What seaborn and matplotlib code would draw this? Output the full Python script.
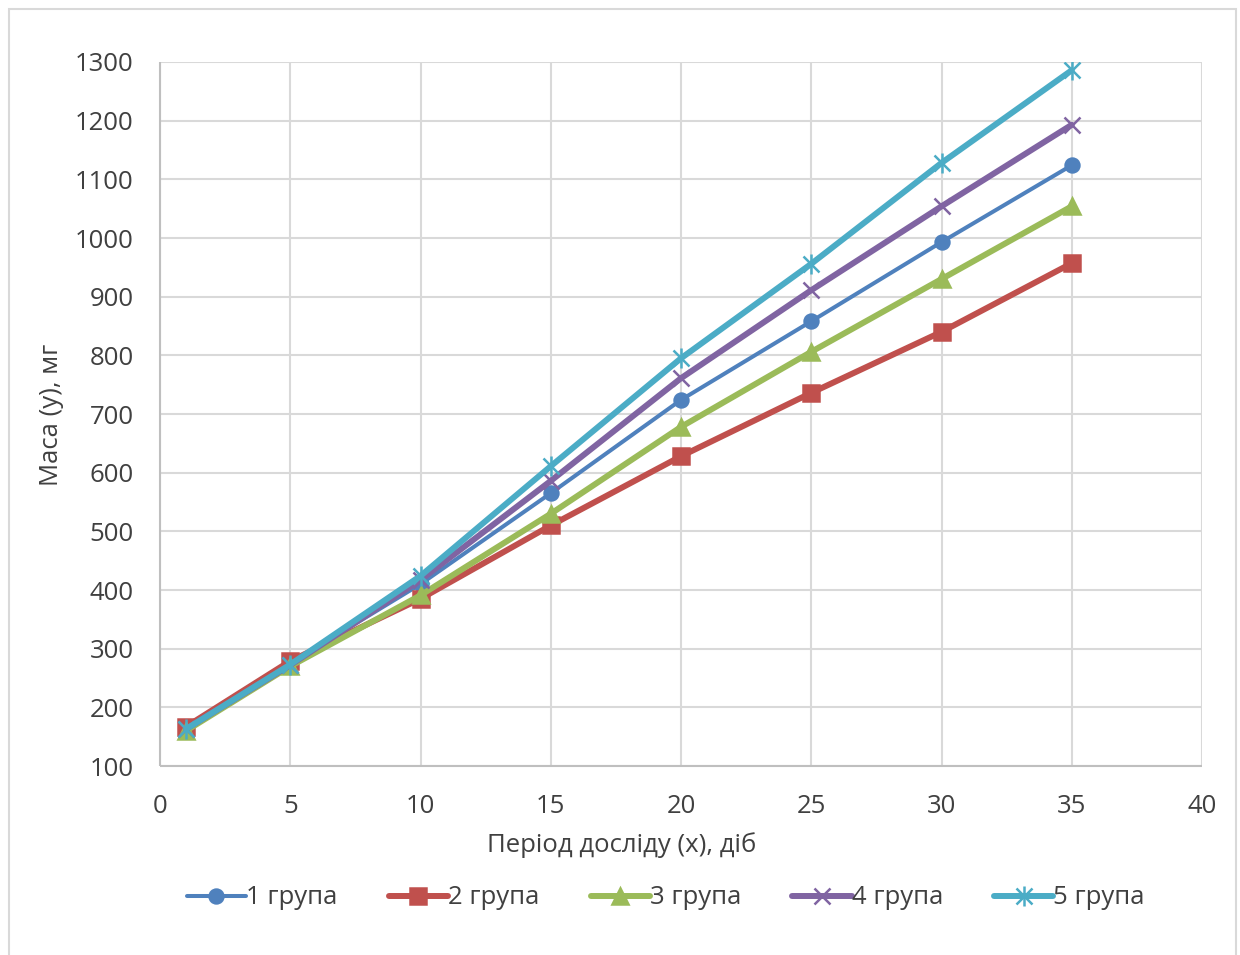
import matplotlib
matplotlib.use("Agg")
import matplotlib.pyplot as plt
import seaborn as sns
import numpy as np
import pandas as pd
from matplotlib.patches import Rectangle
from matplotlib.lines import Line2D

days = [1, 5, 10, 15, 20, 25, 30, 35]
group1 = [163, 275, 410, 565, 724, 858, 993, 1124]
group2 = [167, 279, 385, 510, 628, 736, 840, 957]
group3 = [160, 270, 391, 530, 678, 806, 930, 1054]
group4 = [163, 272, 417, 586, 761, 911, 1054, 1193]
group5 = [163, 273, 424, 611, 795, 956, 1128, 1286]
labels = ["1 група", "2 група", "3 група", "4 група", "5 група"]
x_ticks = [0, 5, 10, 15, 20, 25, 30, 35, 40]
y_ticks = [100, 200, 300, 400, 500, 600, 700, 800, 900, 1000, 1100, 1200, 1300]

sns.set_theme(style="white")
plt.rcParams["font.family"] = ["Open Sans", "DejaVu Sans"]
text_color = "#404040"
fs = 18.5

fig = plt.figure(figsize=(12.4, 9.55), dpi=100)
ax = fig.add_axes([160 / 1240, 1 - 766 / 955, (1202 - 160) / 1240, (766 - 62) / 955])

# outer chart frame
fig.patches.append(Rectangle((9 / 1240, -0.01), (1236 - 9) / 1240, 1 - 9 / 955 + 0.01,
                             transform=fig.transFigure, fill=False,
                             edgecolor="#D9D9D9", linewidth=1.5))

styles = [
    dict(color="#4F81BD", marker="o", lw=2.9, ms=10),
    dict(color="#C0504D", marker="s", lw=4.3, ms=11),
    dict(color="#9BBB59", marker="^", lw=4.3, ms=12),
    dict(color="#8064A2", marker="x", lw=4.3, ms=12),
    dict(color="#4BACC6", marker="x", lw=4.3, ms=12),
]
series = [group1, group2, group3, group4, group5]

for vals, lab, st in zip(series, labels, styles):
    df = pd.DataFrame({"x": days, "y": vals})
    sns.lineplot(data=df, x="x", y="y", ax=ax, color=st["color"], linewidth=st["lw"],
                 marker=st["marker"], markersize=st["ms"], markeredgecolor=st["color"],
                 markerfacecolor=st["color"], markeredgewidth=1.8, label=lab,
                 legend=False, solid_capstyle="round", zorder=3)
    if lab == "5 група":
        sns.scatterplot(data=df, x="x", y="y", ax=ax, marker="|", s=200,
                        color=st["color"], linewidth=1.8, zorder=4, legend=False)

ax.set_xlim(0, 40)
ax.set_ylim(100, 1300)
ax.set_xticks(x_ticks)
ax.set_yticks(y_ticks)
ax.grid(True, color="#D9D9D9", linewidth=1.5)
ax.set_axisbelow(True)
for side in ["top", "right"]:
    ax.spines[side].set_visible(False)
for side in ["left", "bottom"]:
    ax.spines[side].set_color("#BFBFBF")
    ax.spines[side].set_linewidth(1.5)
    ax.spines[side].set_capstyle("butt")
ax.tick_params(axis="x", length=0, labelsize=fs, colors=text_color, pad=20)
ax.tick_params(axis="y", length=0, labelsize=fs, colors=text_color, pad=19)
ax.set_xlabel("Період досліду (x), діб", fontsize=fs, color=text_color, labelpad=12)
ax.xaxis.set_label_coords((622 - 160) / 1042, -(845 - 766) / 704)
ax.xaxis.label.set_va("center")
ax.set_ylabel("Маса (y), мг", fontsize=fs, color=text_color)
ax.yaxis.set_label_coords(-(160 - 51) / 1042, (766 - 415) / 704)
ax.yaxis.label.set_va("center")

leg_handles = []
for lab, st in zip(labels, styles):
    h = Line2D([0], [0], color=st["color"], lw=st["lw"], marker=st["marker"],
               markersize=st["ms"], markeredgecolor=st["color"],
               markerfacecolor=st["color"], markeredgewidth=1.8,
               solid_capstyle="round")
    if lab == "5 група":
        h2 = Line2D([0], [0], color=st["color"], lw=0, marker="|",
                    markersize=14, markeredgecolor=st["color"], markeredgewidth=1.8)
        h = (h, h2)
    leg_handles.append(h)
fig.legend(leg_handles, labels, loc="center", bbox_to_anchor=(0.537, 1 - 898 / 955),
           ncol=5, frameon=False, fontsize=fs, handlelength=2.3, handletextpad=0.0,
           columnspacing=2.0, labelcolor=text_color)

fig.savefig("out.png", dpi=100)
